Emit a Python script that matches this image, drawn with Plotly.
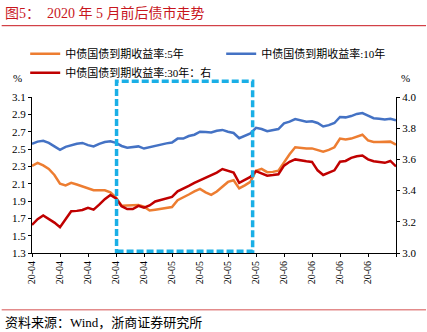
import plotly.graph_objects as go

# ---------------- data ----------------
yield_5y = [2.305, 2.34, 2.31, 2.27, 2.20, 2.10, 2.08, 2.11, 2.09, 2.065,
            2.04, 2.024, 2.024, 2.024, 2.00, 1.94, 1.845, 1.847, 1.847, 1.855,
            1.835, 1.79, 1.80, 1.81, 1.82, 1.83, 1.91, 1.94, 1.975, 2.01,
            2.04, 2.00, 1.97, 2.01, 2.06, 2.12, 2.14, 2.045, 2.08, 2.12,
            2.25, 2.27, 2.233, 2.236, 2.25, 2.35, 2.44, 2.52, 2.51, 2.505,
            2.507, 2.49, 2.47, 2.49, 2.52, 2.62, 2.61, 2.62, 2.64, 2.665,
            2.60, 2.582, 2.58, 2.579, 2.585, 2.55]
yield_10y = [2.56, 2.585, 2.595, 2.57, 2.53, 2.49, 2.525, 2.545, 2.56, 2.57,
             2.545, 2.53, 2.56, 2.58, 2.59, 2.57, 2.535, 2.515, 2.525, 2.53,
             2.505, 2.52, 2.54, 2.55, 2.565, 2.575, 2.62, 2.62, 2.65, 2.665,
             2.70, 2.695, 2.69, 2.71, 2.72, 2.70, 2.685, 2.625, 2.655, 2.68,
             2.745, 2.73, 2.705, 2.715, 2.73, 2.795, 2.815, 2.845, 2.83, 2.815,
             2.82, 2.80, 2.76, 2.775, 2.80, 2.87, 2.865, 2.88, 2.905, 2.915,
             2.885, 2.855, 2.85, 2.84, 2.848, 2.83]
yield_30y = [3.18, 3.217, 3.24, 3.22, 3.195, 3.165, 3.215, 3.268, 3.27, 3.276,
             3.29, 3.278, 3.31, 3.345, 3.372, 3.35, 3.30, 3.282, 3.282, 3.302,
             3.29, 3.305, 3.33, 3.34, 3.35, 3.36, 3.395, 3.41, 3.43, 3.449,
             3.465, 3.483, 3.50, 3.515, 3.538, 3.524, 3.515, 3.45, 3.47, 3.488,
             3.525, 3.51, 3.496, 3.50, 3.505, 3.56, 3.585, 3.60, 3.592, 3.588,
             3.584, 3.53, 3.50, 3.515, 3.53, 3.585, 3.59, 3.61, 3.62, 3.625,
             3.60, 3.588, 3.583, 3.578, 3.59, 3.555]
day_index = list(range(len(yield_5y)))

tick_positions = [0, 5, 10, 15, 20, 25, 30, 35, 40, 45, 50, 55, 60, 65]
tick_labels = ["20-04", "20-04", "20-04", "20-04", "20-04",
               "20-05", "20-05", "20-05", "20-05",
               "20-06", "20-06", "20-06", "20-06", ""]

series_names = ["中债国债到期收益率:5年", "中债国债到期收益率:10年", "中债国债到期收益率:30年：右"]
highlight_range = [15.1, 39.4]   # days covered by the dashed box

# ---------------- layout constants ----------------
W, H = 427, 332
L, R, T, B = 32.3, 31, 97.3, 78.7
PW, PH = W - L - R, H - T - B

def px_x(px):   # pixel -> paper x
    return (px - L) / PW

def px_y(py):   # pixel -> paper y
    return (H - B - py) / PH

SERIF = "Liberation Serif, Noto Sans CJK SC, serif"
RED_TITLE = "#C8161D"

fig = go.Figure()
fig.add_trace(go.Scatter(x=day_index, y=yield_5y, name=series_names[0], mode="lines",
                         line=dict(color="#ED7D31", width=2.5)))
fig.add_trace(go.Scatter(x=day_index, y=yield_10y, name=series_names[1], mode="lines",
                         line=dict(color="#4472C4", width=2.5)))
fig.add_trace(go.Scatter(x=day_index, y=yield_30y, name=series_names[2], mode="lines",
                         line=dict(color="#C00000", width=2.5), yaxis="y2"))

fig.update_layout(
    width=W, height=H,
    margin=dict(l=L, r=R, t=T, b=B, pad=0, autoexpand=False),
    paper_bgcolor="white", plot_bgcolor="white",
    font=dict(family=SERIF, size=11, color="#000000"),
    showlegend=True,
    legend=dict(orientation="h", xref="paper", yref="paper",
                x=px_x(25.5), y=px_y(39.5), xanchor="left", yanchor="top",
                itemwidth=30, entrywidth=151, bgcolor="rgba(0,0,0,0)",
                font=dict(family=SERIF, size=11), tracegroupgap=0),
    xaxis=dict(range=[0, 65], tickmode="array", tickvals=tick_positions, ticktext=tick_labels,
               tickangle=-90, showgrid=False, zeroline=False, showline=True,
               linecolor="#000000", linewidth=1, ticks="outside", ticklen=3,
               tickcolor="#000000", tickfont=dict(family=SERIF, size=10)),
    yaxis=dict(range=[1.3, 3.1], dtick=0.2, tick0=1.3, tickformat=".1f",
               showgrid=False, zeroline=False, showline=True, linecolor="#000000",
               linewidth=1, ticks="outside", ticklen=3, tickcolor="#000000",
               tickfont=dict(family=SERIF, size=11)),
    yaxis2=dict(range=[3.0, 4.0], dtick=0.2, tick0=3.0, tickformat=".1f",
                overlaying="y", side="right", showgrid=False, zeroline=False,
                showline=True, linecolor="#000000", linewidth=1, ticks="outside",
                ticklen=3, tickcolor="#000000", tickfont=dict(family=SERIF, size=11)),
)

# dashed highlight box
fig.add_shape(type="rect", xref="x", yref="paper",
              x0=highlight_range[0], x1=highlight_range[1],
              y0=px_y(251.5), y1=px_y(81.5),
              line=dict(color="#1AAFE6", width=3.5, dash="7px,3px"),
              fillcolor="rgba(0,0,0,0)", layer="above")

# decorative rules
fig.add_shape(type="line", xref="paper", yref="paper",
              x0=px_x(2), x1=px_x(426), y0=px_y(26), y1=px_y(26),
              line=dict(color=RED_TITLE, width=1))
fig.add_shape(type="line", xref="paper", yref="paper",
              x0=px_x(2), x1=px_x(426), y0=px_y(310), y1=px_y(310),
              line=dict(color="#E38B8B", width=1.5))

# texts
fig.add_annotation(text="图5：  2020 年 5 月前后债市走势", xref="paper", yref="paper",
                   x=px_x(3), y=px_y(13), xanchor="left", yanchor="middle",
                   showarrow=False, font=dict(family=SERIF, size=14, color=RED_TITLE))
fig.add_annotation(text="资料来源：Wind，浙商证券研究所", xref="paper", yref="paper",
                   x=px_x(3), y=px_y(323), xanchor="left", yanchor="middle",
                   showarrow=False, font=dict(family=SERIF, size=13, color="#000000"))
fig.add_annotation(text="%", xref="paper", yref="paper", x=px_x(18), y=px_y(78),
                   xanchor="center", yanchor="middle", showarrow=False,
                   font=dict(family=SERIF, size=11))
fig.add_annotation(text="%", xref="paper", yref="paper", x=px_x(405), y=px_y(78),
                   xanchor="center", yanchor="middle", showarrow=False,
                   font=dict(family=SERIF, size=11))

fig.write_html("out.html")
